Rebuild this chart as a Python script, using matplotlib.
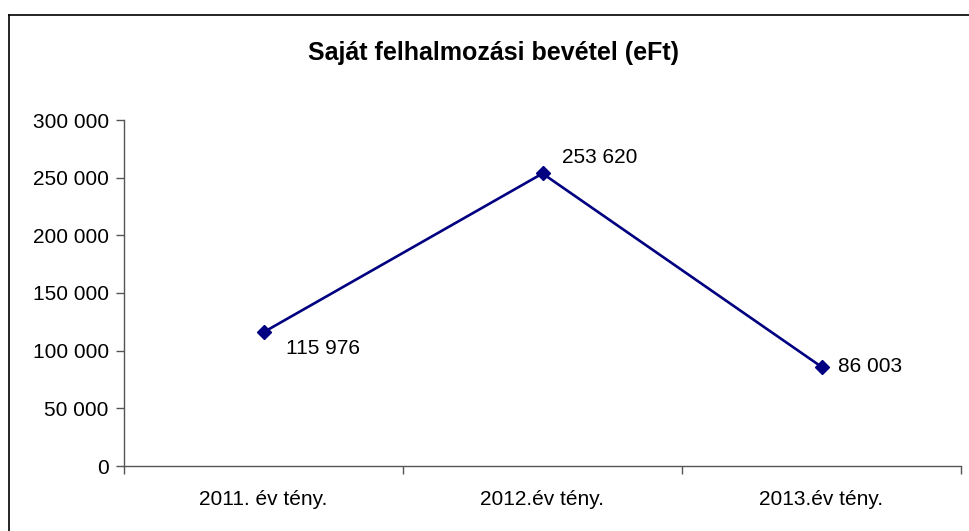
import matplotlib
matplotlib.use("Agg")
import matplotlib.pyplot as plt
from matplotlib.lines import Line2D
from matplotlib.ticker import FixedLocator, FuncFormatter

categories = ["2011. év tény.", "2012.év tény.", "2013.év tény."]
values = [115976, 253620, 86003]
label_texts = ["115 976", "253 620", "86 003"]
label_offsets_px = [(23, -16), (19, 16), (17, 0)]
yticks = [0, 50000, 100000, 150000, 200000, 250000, 300000]
title = "Saját felhalmozási bevétel (eFt)"

plt.rcParams['font.family'] = ['Liberation Sans', 'DejaVu Sans']

W, H = 969, 531
fig = plt.figure(figsize=(W / 100, H / 100), dpi=100)
fig.patch.set_facecolor("white")

ax = fig.add_axes([124 / W, 1 - 466 / H, (961 - 124) / W, (466 - 120) / H])
x = list(range(len(categories)))
ax.plot(x, values, color="#000080", lw=1.9, marker="D", markersize=7.5,
        markerfacecolor="#000080", markeredgecolor="#000080", clip_on=False)

ax.set_xlim(-0.5, len(categories) - 0.5)
ax.set_ylim(0, 300000)
ax.set_yticks(yticks)
ax.yaxis.set_major_formatter(FuncFormatter(lambda v, p: f"{int(v):,}".replace(",", " ")))
ax.set_xticks(x)
ax.set_xticklabels(categories)
ax.xaxis.set_minor_locator(FixedLocator([i - 0.5 for i in range(len(categories) + 1)]))
ax.tick_params(axis="x", which="major", length=0, pad=17, labelsize=15, colors="black")
ax.tick_params(axis="x", which="minor", length=6, width=1, direction="out", color="#555555")
ax.tick_params(axis="y", which="major", length=6, width=1, direction="out", color="#555555",
               labelsize=15, pad=5, labelcolor="black")

for s in ["top", "right"]:
    ax.spines[s].set_visible(False)
for s in ["left", "bottom"]:
    ax.spines[s].set_color("#555555")
    ax.spines[s].set_linewidth(1)

for xi, v, t, (dx, dy) in zip(x, values, label_texts, label_offsets_px):
    ax.annotate(t, (xi, v), xytext=(dx, dy), textcoords="offset pixels",
                ha="left", va="center", fontsize=15, color="black")

fig.text(494 / W, 1 - 53 / H, title, ha="center", va="center",
         fontsize=18, fontweight="bold", color="black")

# chart border (cut at right and bottom like the reference)
fig.add_artist(Line2D([8.5 / W, 8.5 / W], [1 - 14.5 / H, -0.05], transform=fig.transFigure,
                      color="black", lw=1.2))
fig.add_artist(Line2D([8.5 / W, 1.05], [1 - 14.5 / H, 1 - 14.5 / H], transform=fig.transFigure,
                      color="black", lw=1.2))

fig.savefig("out.png", dpi=100)
